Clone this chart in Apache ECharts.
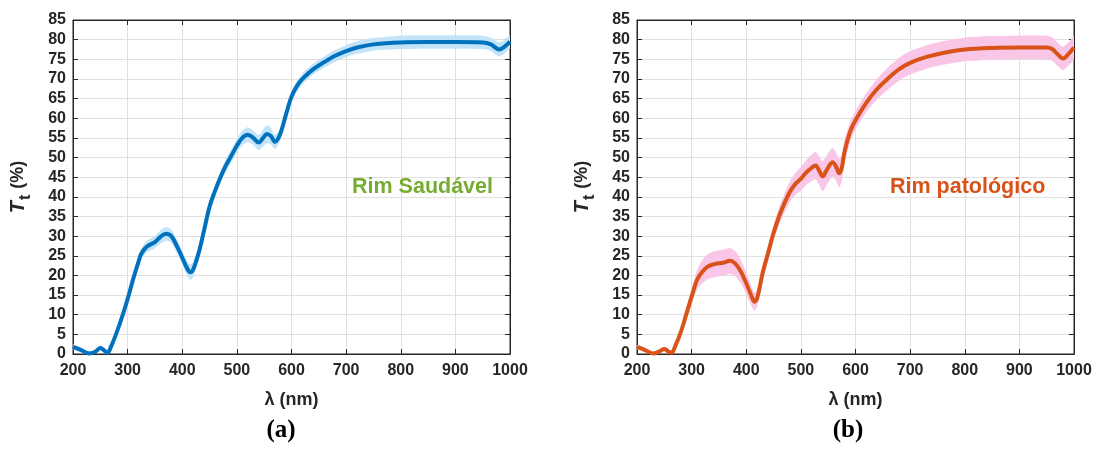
<!DOCTYPE html>
<html><head><meta charset="utf-8">
<script src="https://cdn.jsdelivr.net/npm/echarts@6/dist/echarts.min.js"></script>
<style>html,body{margin:0;padding:0;background:#fff}#c{width:1099px;height:456px}</style>
</head><body><div id="c"></div>
<script>
// ---- data ----
const xTicks = [200,300,400,500,600,700,800,900,1000];
const yTicks = [0,5,10,15,20,25,30,35,40,45,50,55,60,65,70,75,80,85];

// (a) Rim Saudável
const wlA = [200,215,230,240,250,258,263,270,280,290,300,310,320,325,335,350,360,370,380,390,400,410,415,420,430,440,450,460,470,480,490,500,510,520,530,540,548,555,562,570,578,585,590,600,610,620,640,660,680,700,720,750,800,850,900,950,965,980,990,1000];
const tA  = [1.8,1.0,0.1,0.5,1.5,0.8,0.3,2,5.5,9.5,14,19,23.5,25.5,27.3,28.5,29.8,30.6,30,27.5,24.5,21.5,20.8,21.5,25.7,31.5,37.5,41.5,45,48,50.5,53,55,55.8,55,53.8,55,56,55.5,54,55.5,58.5,61,65.5,68.2,70,72.5,74.3,75.9,77.1,78,78.8,79.3,79.4,79.4,79.3,78.8,77.5,78.2,79.5];
const bandA = [0.6,0.6,0.6,0.6,0.7,0.7,0.7,0.9,1.0,1.1,1.2,1.3,1.4,1.4,1.5,1.6,1.7,1.7,1.7,1.7,1.8,1.9,2.0,1.9,1.7,1.6,1.5,1.5,1.5,1.6,1.7,1.8,1.9,1.9,1.8,1.9,2.1,2.3,2.1,1.8,1.6,1.5,1.4,1.4,1.4,1.4,1.4,1.4,1.5,1.5,1.6,1.6,1.7,1.7,1.7,1.7,1.7,1.8,1.7,1.7];

// (b) Rim patológico
const wlB = [200,215,230,240,250,258,263,270,280,290,300,310,320,330,340,350,360,370,380,390,400,410,415,420,430,440,450,460,470,480,490,500,510,520,527,533,540,548,558,565,570,575,580,590,600,620,640,660,680,700,730,760,800,850,900,950,960,970,980,990,1000];
const tB  = [1.8,1.0,0.1,0.6,1.3,0.6,0.3,2,5.5,10,14.6,18.9,21,22.3,22.8,23.1,23.3,23.7,23,21,18,14.6,13.3,14.2,20.6,25.7,30.8,35,38.4,41.3,43.3,44.6,46.2,47.4,48,46.8,45.2,47,48.8,47.5,46,47.4,51.5,56.5,59.5,64,67.5,70.2,72.5,74.1,75.6,76.6,77.5,77.9,78,78,77.6,76.3,75.2,76.4,78];
const bandB = [0.5,0.5,0.5,0.5,0.6,0.6,0.6,0.8,1.0,1.5,2.0,2.5,3.0,3.2,3.3,3.3,3.3,3.3,3.2,3.0,2.8,2.5,2.3,2.2,2.0,2.0,2.0,2.2,2.4,2.6,2.8,3.0,3.2,3.4,3.5,3.6,3.8,3.8,3.6,3.6,3.6,3.4,3.0,2.6,2.4,2.4,2.6,2.8,2.9,3.0,3.0,3.0,3.0,3.0,3.0,3.0,3.0,3.0,3.0,3.0,3.0];

const labelA = 'Rim Saudável';
const labelB = 'Rim patológico';

// ---- chart ----
const TXT = '#262626';
const FONT = '"Liberation Sans", Arial, sans-serif';
const grids = [
  {left:73, top:20, width:437, height:334, show:true, borderColor:TXT, borderWidth:1},
  {left:637, top:20, width:437, height:334, show:true, borderColor:TXT, borderWidth:1}
];
function xAx(g, pos){
  const main = pos==='bottom';
  return {type:'value', gridIndex:g, position:pos, min:200, max:1000, interval:100,
    axisLine:{show:true, onZero:false, lineStyle:{color:TXT, width:1}},
    axisTick:{show:true, inside:true, length:5, lineStyle:{color:TXT}},
    axisLabel:{show:main, color:TXT, fontSize:16, fontWeight:'bold', fontFamily:FONT, margin:9,
      formatter:v=>String(v)},
    splitLine:{show:main, lineStyle:{color:'#E0E0E0', width:1}},
    name: main ? 'λ (nm)' : '', nameLocation:'middle', nameGap:37,
    nameTextStyle:{color:TXT, fontSize:18, fontWeight:'bold', fontFamily:FONT}};
}
function yAx(g, pos){
  const main = pos==='left';
  return {type:'value', gridIndex:g, position:pos, min:0, max:85, interval:5,
    axisLine:{show:true, onZero:false, lineStyle:{color:TXT, width:1}},
    axisTick:{show:true, inside:true, length:5, lineStyle:{color:TXT}},
    axisLabel:{show:main, color:TXT, fontSize:16, fontWeight:'bold', fontFamily:FONT, margin:7,
      formatter:v=>String(v)},
    splitLine:{show:main, lineStyle:{color:'#E0E0E0', width:1}},
    name: main ? '{t|T}{s|t} (%)' : '', nameLocation:'middle', nameGap:39, nameRotate:90,
    nameTextStyle:{color:TXT, fontSize:18, fontWeight:'bold', fontFamily:FONT,
      rich:{t:{fontSize:20, fontStyle:'italic', fontWeight:'bold', color:TXT, fontFamily:FONT},
            s:{fontSize:16, fontWeight:'bold', color:TXT, fontFamily:FONT, verticalAlign:'bottom', padding:[16,1,0,1]}}}};
}
function pairs(xs, ys){ return xs.map((x,i)=>[x, ys[i]]); }
function bandSeries(xi, yi, xs, ys, bw, color){
  // one item per point: [x, lower, upper]; drawn as a single polygon through the axes
  const rows = xs.map((x,i)=>[x, ys[i]-bw[i], ys[i]+bw[i]]);
  return {type:'custom', xAxisIndex:xi, yAxisIndex:yi, data:rows, silent:true, z:1,
    encode:{x:0, y:[1,2]}, clip:true,
    renderItem:function(params, api){
      if (params.dataIndex !== 0) return null;
      const up = [], lo = [];
      for (let i=0;i<rows.length;i++){
        up.push(api.coord([rows[i][0], rows[i][2]]));
        lo.push(api.coord([rows[i][0], rows[i][1]]));
      }
      const cs = params.coordSys;
      return {type:'polygon', shape:{points:up.concat(lo.reverse()), smooth:0.2},
         style:{fill:color, stroke:null},
         clipPath:{type:'rect', shape:{x:cs.x, y:cs.y, width:cs.width, height:cs.height}}};
    }};
}
const series = [
  bandSeries(0, 0, wlA, tA, bandA, '#C3E4F8'),
  {type:'line', xAxisIndex:0, yAxisIndex:0, data:pairs(wlA, tA), smooth:0.35, showSymbol:false,
    lineStyle:{color:'#0072BD', width:4}, z:3},
  bandSeries(2, 2, wlB, tB, bandB, '#F9C6E8'),
  {type:'line', xAxisIndex:2, yAxisIndex:2, data:pairs(wlB, tB), smooth:0.35, showSymbol:false,
    lineStyle:{color:'#D95319', width:4}, z:3}
];
const chart = echarts.init(document.getElementById('c'), null, {renderer:'canvas'});
chart.setOption({
  animation:false,
  backgroundColor:'#fff',
  grid:grids,
  xAxis:[xAx(0,'bottom'), xAx(0,'top'), xAx(1,'bottom'), xAx(1,'top')],
  yAxis:[yAx(0,'left'), yAx(0,'right'), yAx(1,'left'), yAx(1,'right')],
  series:series,
  graphic:[
    {type:'text', x:352, y:187, z:10, style:{text:labelA, fill:'#77AC30', font:'bold 21.5px '+FONT, verticalAlign:'middle'}},
    {type:'text', x:890, y:187, z:10, style:{text:labelB, fill:'#D95319', font:'bold 21.5px '+FONT, verticalAlign:'middle'}},
    {type:'text', x:281, y:431, style:{text:'(a)', fill:'#000', font:'bold 25px "Liberation Serif", "Times New Roman", serif', align:'center', verticalAlign:'middle'}},
    {type:'text', x:848, y:431, style:{text:'(b)', fill:'#000', font:'bold 25px "Liberation Serif", "Times New Roman", serif', align:'center', verticalAlign:'middle'}}
  ]
});
</script></body></html>
